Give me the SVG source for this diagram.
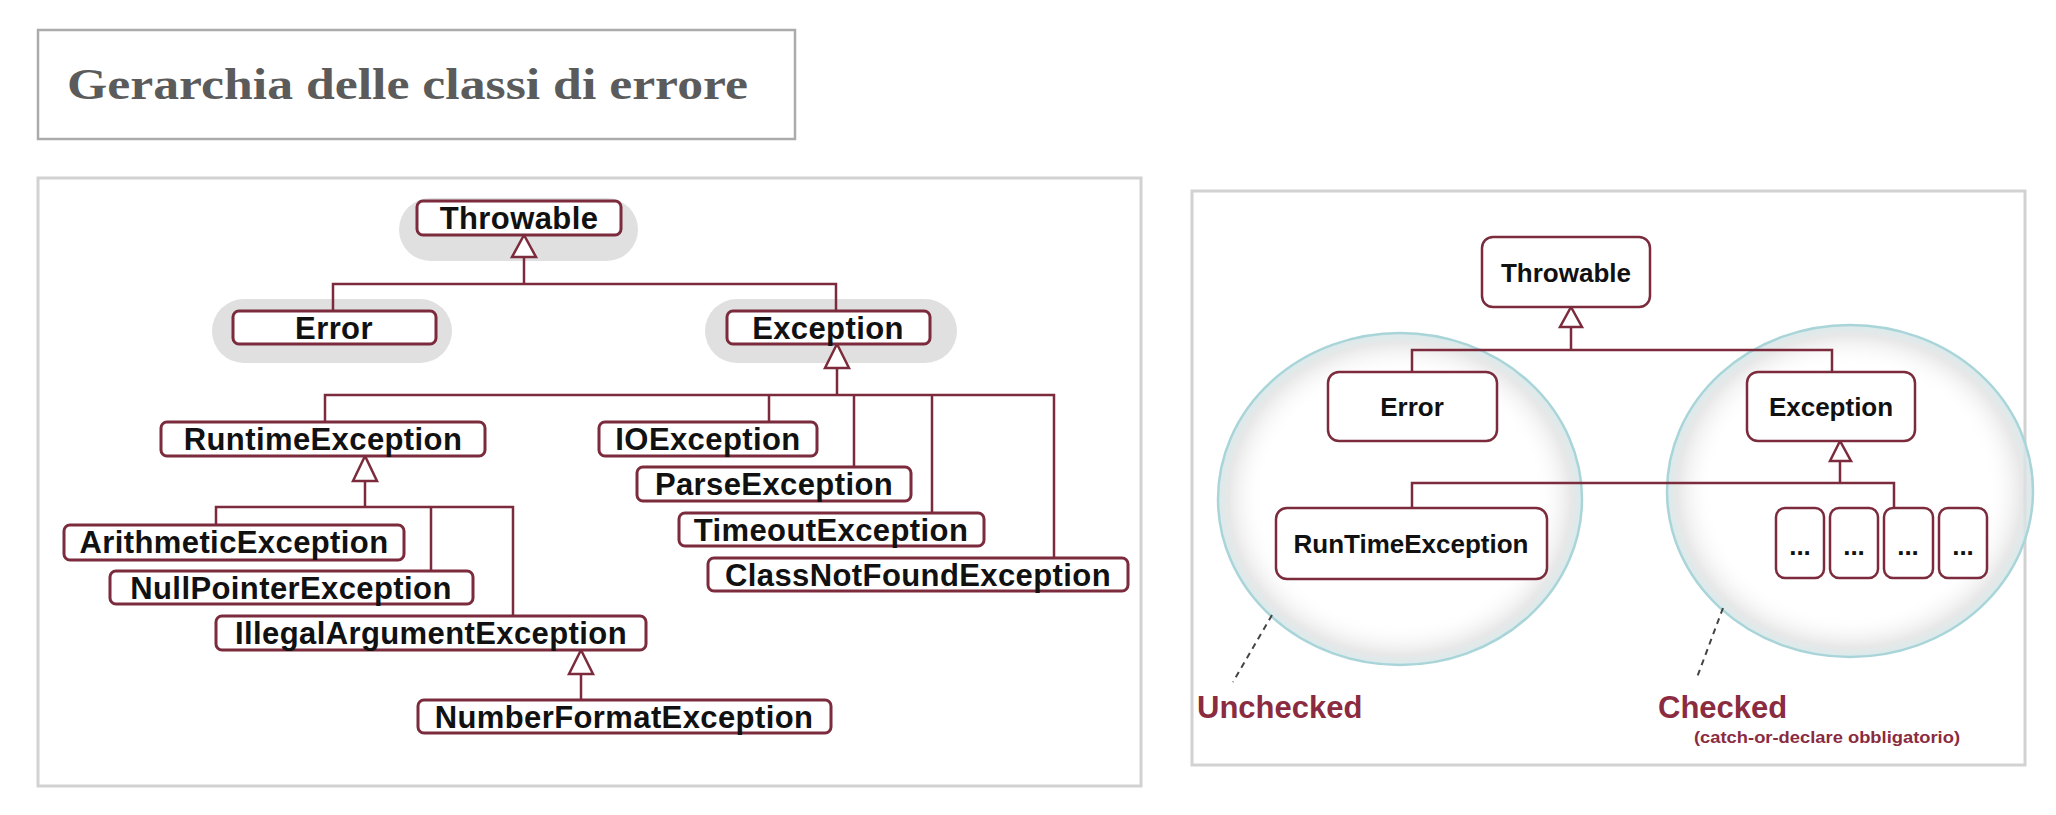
<svg xmlns="http://www.w3.org/2000/svg" width="2056" height="815" viewBox="0 0 2056 815">
<defs>
<radialGradient id="bubble" cx="50%" cy="50%" r="50%">
<stop offset="0%" stop-color="#ffffff" stop-opacity="0"/>
<stop offset="75%" stop-color="#ffffff" stop-opacity="0"/>
<stop offset="94%" stop-color="#e0e0e0" stop-opacity="0.75"/>
<stop offset="100%" stop-color="#d6e8ea" stop-opacity="0.9"/>
</radialGradient>
</defs>
<style>
.panel{fill:#ffffff;stroke:#d2d2d2;stroke-width:3}
.pill{fill:#e0e0e0;stroke:none}
.box{fill:#ffffff;stroke:#7b2b3c;stroke-width:3}
.rbox{fill:#ffffff;stroke:#7b2b3c;stroke-width:2.5}
.ln{fill:none;stroke:#7b2b3c;stroke-width:2.5}
.tri{fill:#ffffff;stroke:#7b2b3c;stroke-width:2.5;stroke-linejoin:miter}
.t{font-family:"Liberation Sans",Arial,Helvetica,sans-serif;font-weight:bold;fill:#111111;text-anchor:middle}
.tl{font-size:31px;letter-spacing:0.4px}
.tr{font-size:26px}
.bub{fill:url(#bubble);stroke:#a9d5d9;stroke-width:2.5}
.dash{stroke:#444444;stroke-width:2;stroke-dasharray:6 5;fill:none}
.lab{font-family:"Liberation Sans",Arial,Helvetica,sans-serif;font-weight:bold;fill:#8b2b3f}
</style>
<rect width="2056" height="815" fill="#ffffff"/>
<g id="title">
<rect x="38" y="30" width="757" height="109" fill="#ffffff" stroke="#ababab" stroke-width="2.5"/>
<text x="67" y="99" font-family="'Liberation Serif','Times New Roman',serif" font-weight="bold" font-size="44" fill="#5b5b5b" textLength="681" lengthAdjust="spacingAndGlyphs">Gerarchia delle classi di errore</text>
</g>
<rect class="panel" x="38" y="178" width="1103" height="608"/>
<rect class="panel" x="1192" y="191" width="833" height="574"/>
<g id="pills">
<rect class="pill" x="399" y="198" width="239" height="63" rx="31.5"/>
<rect class="pill" x="212" y="299" width="240" height="64" rx="32"/>
<rect class="pill" x="705" y="299" width="252" height="64" rx="32"/>
</g>
<g id="bubbles">
<ellipse class="bub" cx="1400" cy="499" rx="182" ry="166"/>
<ellipse class="bub" cx="1850" cy="491" rx="183" ry="166"/>
</g>
<g id="connectors">
<path class="ln" d="M524 257V284M333 311V284H836V311"/>
<polygon class="tri" points="524,235 512,257 536,257"/>
<path class="ln" d="M837 368V395M325 422V395H1054V558M769 395V422M854 395V467M932 395V513"/>
<polygon class="tri" points="837,344 825,368 849,368"/>
<path class="ln" d="M365 481V507M216 525V507H513V616M431 507V571"/>
<polygon class="tri" points="365,456 353,481 377,481"/>
<path class="ln" d="M581 674V700"/>
<polygon class="tri" points="581,650 569,674 593,674"/>
<path class="ln" d="M1571 327V350M1412 372V350H1832V372"/>
<polygon class="tri" points="1571,307 1560,327 1582,327"/>
<path class="ln" d="M1840 461V483M1412 508V483H1894V508"/>
<polygon class="tri" points="1840,441 1830,461 1851,461"/>
<path class="dash" d="M1272 615L1233 682"/>
<path class="dash" d="M1723 608L1696 680"/>
</g>
<g id="n-throwable"><rect class="box" x="417" y="201" width="204" height="34" rx="6"/><text class="t tl" x="519" y="229">Throwable</text></g>
<g id="n-error"><rect class="box" x="233" y="311" width="203" height="33" rx="6"/><text class="t tl" x="334" y="339">Error</text></g>
<g id="n-exception"><rect class="box" x="727" y="311" width="203" height="33" rx="6"/><text class="t tl" x="828" y="339">Exception</text></g>
<g id="n-runtime"><rect class="box" x="161" y="422" width="324" height="34" rx="6"/><text class="t tl" x="323" y="450">RuntimeException</text></g>
<g id="n-arith"><rect class="box" x="64" y="525" width="340" height="35" rx="6"/><text class="t tl" x="234" y="553">ArithmeticException</text></g>
<g id="n-null"><rect class="box" x="110" y="571" width="363" height="33" rx="6"/><text class="t tl" x="291" y="599">NullPointerException</text></g>
<g id="n-illegal"><rect class="box" x="216" y="616" width="430" height="34" rx="6"/><text class="t tl" x="431" y="644">IllegalArgumentException</text></g>
<g id="n-numfmt"><rect class="box" x="418" y="700" width="413" height="33" rx="6"/><text class="t tl" x="624" y="728">NumberFormatException</text></g>
<g id="n-io"><rect class="box" x="599" y="422" width="218" height="34" rx="6"/><text class="t tl" x="708" y="450">IOException</text></g>
<g id="n-parse"><rect class="box" x="637" y="467" width="274" height="34" rx="6"/><text class="t tl" x="774" y="495">ParseException</text></g>
<g id="n-timeout"><rect class="box" x="679" y="513" width="305" height="33" rx="6"/><text class="t tl" x="831" y="541">TimeoutException</text></g>
<g id="n-cnf"><rect class="box" x="708" y="558" width="420" height="33" rx="6"/><text class="t tl" x="918" y="586">ClassNotFoundException</text></g>
<g id="r-throwable"><rect class="rbox" x="1482" y="237" width="168" height="70" rx="11"/><text class="t tr" x="1566" y="282">Throwable</text></g>
<g id="r-error"><rect class="rbox" x="1328" y="372" width="169" height="69" rx="11"/><text class="t tr" x="1412" y="416">Error</text></g>
<g id="r-exception"><rect class="rbox" x="1747" y="372" width="168" height="69" rx="11"/><text class="t tr" x="1831" y="416">Exception</text></g>
<g id="r-runtime"><rect class="rbox" x="1276" y="508" width="271" height="71" rx="11"/><text class="t tr" x="1411" y="553">RunTimeException</text></g>
<g id="r-d1"><rect class="rbox" x="1776" y="508" width="48" height="70" rx="9"/><text class="t tr" x="1800" y="555">...</text></g>
<g id="r-d2"><rect class="rbox" x="1830" y="508" width="48" height="70" rx="9"/><text class="t tr" x="1854" y="555">...</text></g>
<g id="r-d3"><rect class="rbox" x="1884" y="508" width="49" height="70" rx="9"/><text class="t tr" x="1908" y="555">...</text></g>
<g id="r-d4"><rect class="rbox" x="1939" y="508" width="48" height="70" rx="9"/><text class="t tr" x="1963" y="555">...</text></g>
<g id="labels">
<text class="lab" x="1197" y="718" font-size="31">Unchecked</text>
<text class="lab" x="1658" y="718" font-size="31">Checked</text>
<text class="lab" x="1694" y="743" font-size="17" textLength="266" lengthAdjust="spacingAndGlyphs">(catch-or-declare obbligatorio)</text>
</g>
</svg>
